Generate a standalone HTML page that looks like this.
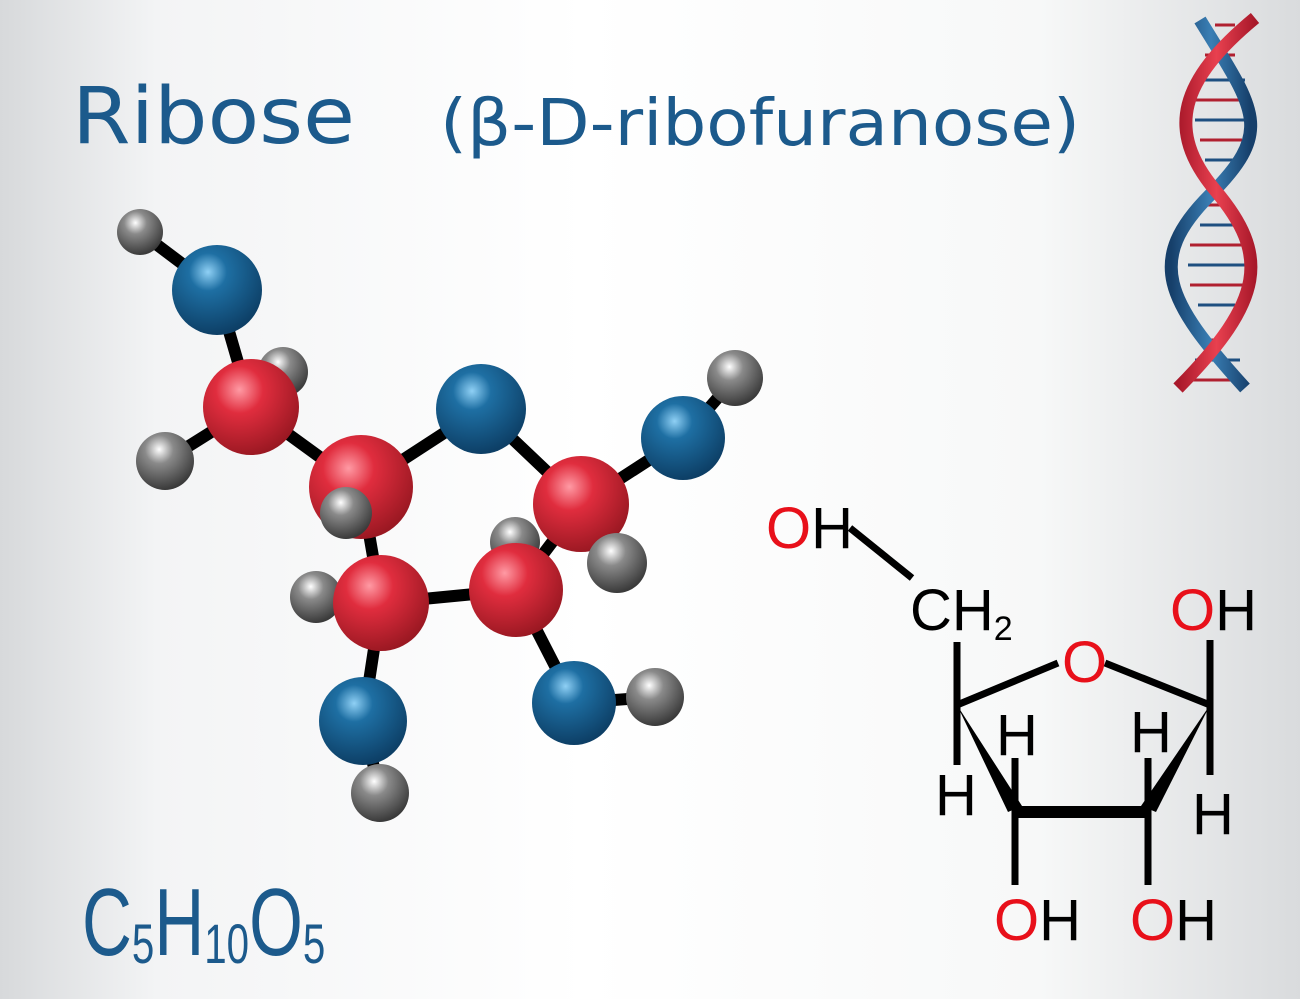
<!DOCTYPE html>
<html><head><meta charset="utf-8"><style>
html,body{margin:0;padding:0;}
body{width:1300px;height:999px;overflow:hidden;background:linear-gradient(90deg,#d7d9db 0%,#f3f4f5 12%,#ffffff 45%,#f7f8f8 80%,#d9dbdd 100%);}
svg{display:block}
</style></head><body>
<svg width="1300" height="999" viewBox="0 0 1300 999" xmlns="http://www.w3.org/2000/svg">
<defs>
<radialGradient id="r" cx="0.38" cy="0.32" r="0.7"><stop offset="0" stop-color="#ff9aa4"/><stop offset="0.35" stop-color="#e02d3e"/><stop offset="1" stop-color="#9a1822"/></radialGradient>
<radialGradient id="b" cx="0.4" cy="0.3" r="0.7"><stop offset="0" stop-color="#8fd0f5"/><stop offset="0.3" stop-color="#1e6fa3"/><stop offset="1" stop-color="#0d3f66"/></radialGradient>
<radialGradient id="g" cx="0.4" cy="0.3" r="0.7"><stop offset="0" stop-color="#ffffff"/><stop offset="0.35" stop-color="#8a8a8a"/><stop offset="1" stop-color="#3a3a3a"/></radialGradient>
<linearGradient id="dr" x1="0" y1="0" x2="1" y2="0"><stop offset="0" stop-color="#a8182a"/><stop offset="0.5" stop-color="#e8404f"/><stop offset="1" stop-color="#a8182a"/></linearGradient>
<linearGradient id="db" x1="0" y1="0" x2="1" y2="0"><stop offset="0" stop-color="#163f6a"/><stop offset="0.5" stop-color="#3a7fb5"/><stop offset="1" stop-color="#163f6a"/></linearGradient>
</defs>
<g font-family="DejaVu Sans, Liberation Sans, sans-serif" fill="#1c5a8c">
<text x="72" y="143" font-size="78" textLength="283" lengthAdjust="spacingAndGlyphs">Ribose</text>
<text x="440" y="145" font-size="64" textLength="640" lengthAdjust="spacingAndGlyphs">(β-D-ribofuranose)</text>
</g>
<g font-family="Liberation Sans, sans-serif" fill="#1c5a8c">
<text x="82" y="955" font-size="96" transform="translate(82 955) scale(0.72 1) translate(-82 -955)">C<tspan font-size="56" dy="8">5</tspan><tspan dy="-8">H</tspan><tspan font-size="56" dy="8">10</tspan><tspan dy="-8">O</tspan><tspan font-size="56" dy="8">5</tspan></text>
</g>
<!-- DNA -->
<g>
<g stroke-width="3">
<line x1="1215" y1="25" x2="1235" y2="25" stroke="#b02030"/>
<line x1="1205" y1="55" x2="1235" y2="55" stroke="#b02030"/>
<line x1="1198" y1="80" x2="1245" y2="80" stroke="#1e4f80"/>
<line x1="1195" y1="100" x2="1248" y2="100" stroke="#b02030"/>
<line x1="1195" y1="120" x2="1248" y2="120" stroke="#1e4f80"/>
<line x1="1200" y1="140" x2="1242" y2="140" stroke="#b02030"/>
<line x1="1205" y1="160" x2="1235" y2="160" stroke="#1e4f80"/>
<line x1="1205" y1="205" x2="1220" y2="205" stroke="#b02030"/>
<line x1="1200" y1="225" x2="1235" y2="225" stroke="#1e4f80"/>
<line x1="1190" y1="245" x2="1243" y2="245" stroke="#b02030"/>
<line x1="1188" y1="265" x2="1245" y2="265" stroke="#1e4f80"/>
<line x1="1190" y1="285" x2="1243" y2="285" stroke="#b02030"/>
<line x1="1198" y1="305" x2="1235" y2="305" stroke="#1e4f80"/>
<line x1="1205" y1="340" x2="1225" y2="340" stroke="#b02030"/>
<line x1="1195" y1="360" x2="1240" y2="360" stroke="#1e4f80"/>
<line x1="1190" y1="380" x2="1245" y2="380" stroke="#b02030"/>
</g>
<path d="M1200,20 C1255,110 1275,130 1210,195 C1145,260 1165,300 1245,388" fill="none" stroke="url(#db)" stroke-width="13"/>
<path d="M1255,18 C1180,80 1165,130 1215,190 C1270,255 1265,300 1178,388" fill="none" stroke="url(#dr)" stroke-width="13"/>
</g>
<!-- ball and stick -->
<g stroke="#000" stroke-width="12" stroke-linecap="round">
<line x1="140" y1="232" x2="217" y2="290"/>
<line x1="217" y1="290" x2="251" y2="407"/>
<line x1="251" y1="407" x2="165" y2="461"/>
<line x1="251" y1="407" x2="361" y2="487"/>
<line x1="361" y1="487" x2="481" y2="409"/>
<line x1="481" y1="409" x2="581" y2="504"/>
<line x1="581" y1="504" x2="683" y2="438"/>
<line x1="683" y1="438" x2="735" y2="378"/>
<line x1="581" y1="504" x2="617" y2="563"/>
<line x1="581" y1="504" x2="516" y2="590"/>
<line x1="361" y1="487" x2="381" y2="603"/>
<line x1="381" y1="603" x2="516" y2="590"/>
<line x1="381" y1="603" x2="316" y2="597"/>
<line x1="381" y1="603" x2="363" y2="721"/>
<line x1="363" y1="721" x2="380" y2="793"/>
<line x1="516" y1="590" x2="574" y2="703"/>
<line x1="574" y1="703" x2="655" y2="697"/>
</g>
<circle cx="140" cy="232" r="23" fill="url(#g)"/>
<circle cx="217" cy="290" r="45" fill="url(#b)"/>
<circle cx="283" cy="372" r="25" fill="url(#g)"/>
<circle cx="165" cy="461" r="29" fill="url(#g)"/>
<circle cx="251" cy="407" r="48" fill="url(#r)"/>
<circle cx="515" cy="542" r="25" fill="url(#g)"/>
<circle cx="361" cy="487" r="52" fill="url(#r)"/>
<circle cx="346" cy="513" r="26" fill="url(#g)"/>
<circle cx="481" cy="409" r="45" fill="url(#b)"/>
<circle cx="735" cy="378" r="28" fill="url(#g)"/>
<circle cx="683" cy="438" r="42" fill="url(#b)"/>
<circle cx="581" cy="504" r="48" fill="url(#r)"/>
<circle cx="617" cy="563" r="30" fill="url(#g)"/>
<circle cx="316" cy="597" r="26" fill="url(#g)"/>
<circle cx="516" cy="590" r="47" fill="url(#r)"/>
<circle cx="381" cy="603" r="48" fill="url(#r)"/>
<circle cx="655" cy="697" r="29" fill="url(#g)"/>
<circle cx="574" cy="703" r="42" fill="url(#b)"/>
<circle cx="380" cy="793" r="29" fill="url(#g)"/>
<circle cx="363" cy="721" r="44" fill="url(#b)"/>
<!-- structural formula -->
<g stroke="#000" stroke-width="7" fill="none">
<line x1="850" y1="528" x2="912" y2="578"/>
<line x1="957" y1="642" x2="957" y2="765"/>
<line x1="957" y1="705" x2="1058" y2="663"/>
<line x1="1105" y1="663" x2="1210" y2="705"/>
<line x1="1210" y1="640" x2="1210" y2="775"/>
<line x1="1015" y1="758" x2="1015" y2="885"/>
<line x1="1148" y1="758" x2="1148" y2="885"/>
<line x1="1015" y1="812" x2="1148" y2="812" stroke-width="12"/>
</g>
<polygon points="957,705 1008,812 1022,806" fill="#000"/>
<polygon points="1210,705 1141,806 1156,812" fill="#000"/>
<g font-family="Liberation Sans, sans-serif" font-size="58" fill="#000">
<text x="766" y="548"><tspan fill="#e8101a">O</tspan>H</text>
<text x="910" y="630">CH<tspan font-size="34" dy="10">2</tspan></text>
<text x="1062" y="682" fill="#e8101a">O</text>
<text x="1170" y="630"><tspan fill="#e8101a">O</tspan>H</text>
<text x="996" y="755">H</text>
<text x="1130" y="752">H</text>
<text x="935" y="815">H</text>
<text x="1192" y="834">H</text>
<text x="994" y="940"><tspan fill="#e8101a">O</tspan>H</text>
<text x="1130" y="940"><tspan fill="#e8101a">O</tspan>H</text>
</g>
</svg>
</body></html>
